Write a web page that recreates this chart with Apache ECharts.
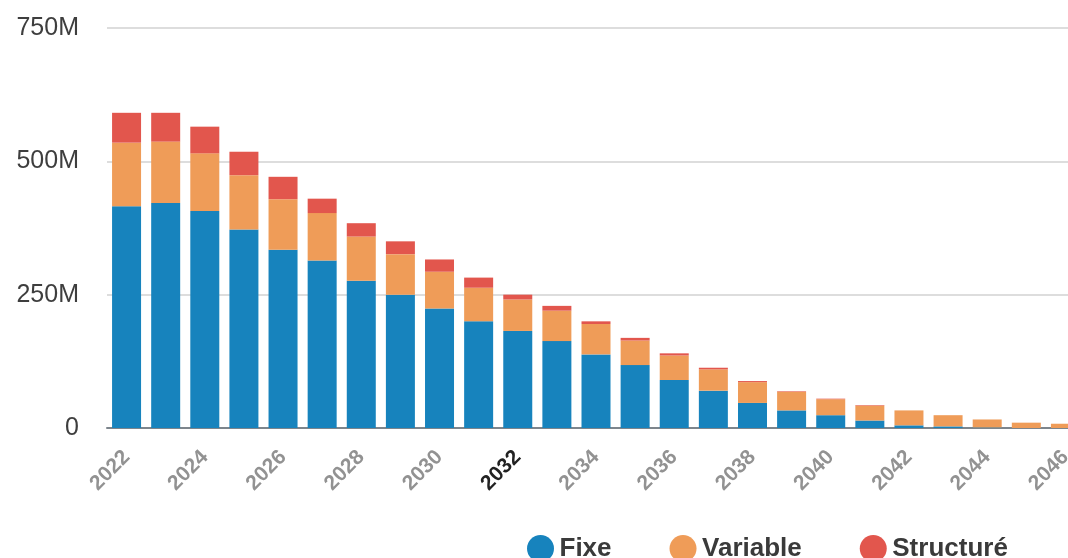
<!DOCTYPE html>
<html>
<head>
<meta charset="utf-8">
<script src="https://cdn.jsdelivr.net/npm/echarts@6/dist/echarts.min.js"></script>
<style>
  html, body { margin: 0; padding: 0; background: #fff; }
  #chart { width: 1068px; height: 558px; }
</style>
</head>
<body>
<div id="chart"></div>
<script>
// années
const years = ['2022', '2023', '2024', '2025', '2026', '2027', '2028', '2029', '2030', '2031', '2032', '2033', '2034',
  '2035', '2036', '2037', '2038', '2039', '2040', '2041', '2042', '2043', '2044', '2045', '2046']
// encours en millions
const fixe = [416, 422, 407, 372, 334, 314, 276, 250, 224, 200, 182, 163, 138, 118, 90, 70, 47, 33, 24, 14, 5, 3, 1, 0, 0]
const variable = [119, 115, 108, 102, 95, 89, 83, 76, 69, 63, 59, 57, 57, 46, 46, 40, 39, 35, 30, 28, 28, 21, 15, 10, 8]
const structure = [56, 54, 50, 44, 42, 27, 25, 24, 23, 19, 9, 9, 5, 5, 4, 3, 2, 1, 1, 1, 0, 0, 0, 0, 0]

const colors = ['#1783bd', '#ef9c58', '#e2564d']

const chart = echarts.init(document.getElementById('chart'))

function barSeries(name, data) {
  return {
    name: name,
    type: 'bar',
    stack: 'total',
    barWidth: 29,
    data: data
  }
}

chart.setOption({
  animation: false,
  color: colors,
  textStyle: { fontFamily: 'Liberation Sans, Arial, sans-serif' },
  grid: {
    left: 107,
    right: -17,
    top: 28,
    bottom: 130,
    outerBoundsMode: 'none'
  },
  legend: {
    left: 522,
    top: 530,
    icon: 'circle',
    itemWidth: 28,
    itemHeight: 27,
    itemGap: 58,
    textStyle: {
      fontSize: 26,
      fontWeight: 'bold',
      color: '#3a3a3a'
    },
    data: ['Fixe', 'Variable', 'Structuré']
  },
  xAxis: {
    type: 'category',
    data: years,
    axisTick: { show: false },
    axisLine: { lineStyle: { color: '#7d858c', width: 2 } },
    axisLabel: {
      interval: 1,
      rotate: 45,
      margin: 26,
      fontSize: 21,
      fontWeight: 'bold',
      color: '#929292',
      formatter: function(v) {
        return v === '2032' ? '{dark|' + v + '}' : v
      },
      rich: {
        dark: { fontSize: 21, color: '#222', fontWeight: 'bold' }
      }
    }
  },
  yAxis: {
    type: 'value',
    min: 0,
    max: 750,
    interval: 250,
    axisLine: { show: false },
    axisTick: { show: false },
    splitLine: { lineStyle: { color: '#d2d2d2', width: 1.5 } },
    axisLabel: {
      margin: 28,
      fontSize: 25,
      color: '#3e3e3e',
      formatter: function(v) {
        return v === 0 ? '0' : v + 'M'
      }
    }
  },
  series: [
    barSeries('Fixe', fixe),
    barSeries('Variable', variable),
    barSeries('Structuré', structure)
  ]
})
</script>
</body>
</html>
